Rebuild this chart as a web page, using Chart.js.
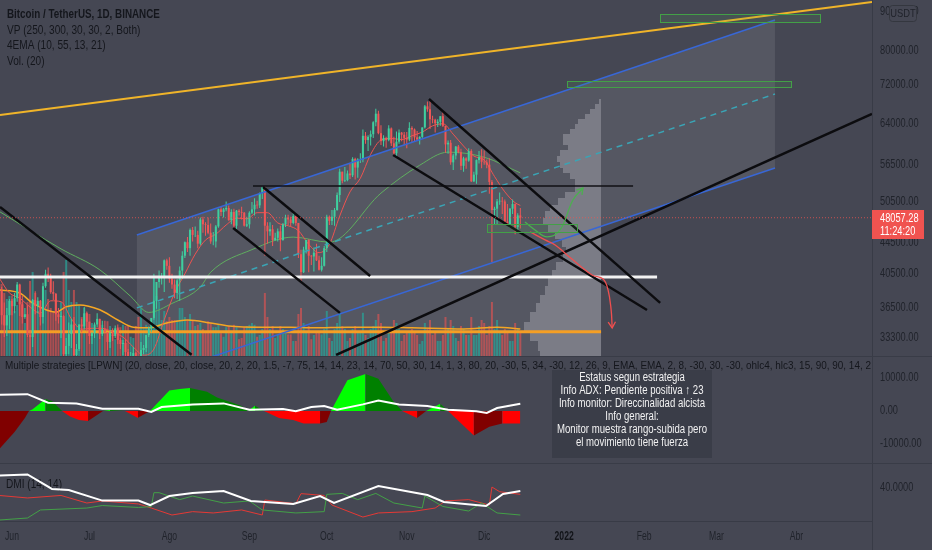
<!DOCTYPE html>
<html lang="es">
<head>
<meta charset="utf-8">
<title>Bitcoin / TetherUS, 1D, BINANCE</title>
<script src="https://cdn.jsdelivr.net/npm/chart.js@4.4.1/dist/chart.umd.min.js"></script>
<style>
  html, body { margin: 0; padding: 0; background: #393c47; }
  #wrap { position: relative; width: 932px; height: 550px; overflow: hidden; }
  #wrap canvas { position: absolute; left: 0; background: #454753; }
</style>
</head>
<body>
<div id="wrap">
  <canvas id="price" width="932" height="356" style="top:0"></canvas>
  <canvas id="osc" width="932" height="106" style="top:357px"></canvas>
  <canvas id="dmi" width="932" height="86" style="top:464px"></canvas>
</div>
<script>
// day 0 = 1 Jun 2021, first candle is 27 May 2021
const firstDay = -5

// daily candles, thousands of USDT
const opens = [
  39.3, 38.5, 35.7, 34.6, 35.7,
  37.3, 36.7, 37.6, 39.2, 36.9, 35.5, 35.8, 33.6, 33.4, 37.4, 36.7, 37.3, 35.5, 39.0, 40.5, 40.2, 38.3, 38.1, 35.8, 35.5, 35.6, 31.7, 32.5, 33.7, 34.7, 31.6, 32.2, 34.7, 34.5, 35.9,
  35.0, 33.5, 33.8, 34.7, 35.3, 33.7, 34.2, 33.9, 32.9, 33.8, 33.5, 34.3, 33.1, 32.7, 32.8, 31.9, 31.4, 31.5, 31.8, 30.8, 29.8, 32.1, 32.3, 33.6, 34.3, 35.4, 37.3, 39.5, 40.0, 40.0, 42.2,
  41.5, 39.9, 39.2, 38.2, 39.7, 40.9, 42.8, 44.6, 43.8, 46.3, 45.6, 45.6, 44.4, 47.8, 47.1, 47.0, 45.9, 44.7, 44.7, 46.8, 49.3, 48.9, 49.3, 49.5, 47.7, 48.9, 46.9, 49.1, 48.9, 48.8, 46.9,
  47.1, 48.8, 49.3, 50.0, 49.9, 51.8, 52.7, 46.9, 46.1, 46.4, 44.9, 45.2, 46.1, 44.9, 47.1, 48.1, 47.8, 47.3, 48.3, 47.3, 43.0, 40.7, 43.6, 44.9, 42.8, 42.7, 43.2, 42.2, 41.0, 41.5,
  43.8, 48.2, 47.6, 48.2, 49.2, 51.5, 55.3, 53.8, 53.9, 55.0, 54.7, 57.5, 56.0, 57.4, 57.4, 61.7, 60.9, 61.5, 62.0, 64.3, 66.0, 62.2, 60.7, 61.3, 60.9, 63.1, 60.3, 58.5, 60.6, 62.3, 61.9,
  61.3, 61.0, 63.2, 62.9, 61.4, 61.0, 61.5, 63.3, 67.5, 66.9, 64.9, 64.8, 64.1, 64.4, 65.5, 63.6, 60.1, 60.4, 56.9, 58.1, 59.7, 58.7, 56.3, 57.6, 57.2, 58.9, 53.7, 54.8, 57.3, 57.8,
  57.0, 56.9, 56.5, 53.6, 49.2, 49.4, 50.5, 50.6, 50.5, 47.5, 47.1, 49.4, 50.1, 46.7, 48.4
]
const highs = [
  40.4, 38.9, 37.1, 36.5, 37.5,
  37.9, 38.2, 39.5, 39.3, 37.9, 36.5, 36.8, 34.1, 37.5, 38.4, 37.7, 37.4, 39.4, 41.0, 41.3, 40.5, 39.6, 38.2, 36.5, 36.1, 35.7, 33.3, 34.9, 35.3, 35.5, 32.7, 34.7, 35.3, 36.6, 36.1,
  35.0, 33.9, 34.9, 35.9, 35.3, 35.1, 35.1, 33.9, 34.1, 34.3, 34.6, 34.7, 33.3, 33.1, 33.2, 32.2, 31.9, 32.4, 31.9, 31.0, 32.9, 32.6, 33.6, 34.5, 35.4, 40.5, 39.5, 40.9, 40.6, 42.3, 42.4,
  42.6, 40.5, 39.8, 39.9, 41.4, 43.4, 44.7, 45.3, 46.5, 46.7, 46.8, 46.2, 48.1, 48.2, 47.4, 48.1, 47.2, 46.0, 47.0, 49.4, 49.8, 49.5, 50.5, 49.9, 49.3, 49.4, 49.2, 49.3, 49.7, 48.9, 48.2,
  49.0, 50.4, 51.0, 50.6, 51.9, 52.8, 52.9, 47.4, 47.4, 47.0, 45.9, 46.5, 46.9, 47.3, 48.5, 48.5, 48.2, 48.8, 48.4, 47.3, 43.6, 44.0, 44.9, 45.0, 42.9, 43.9, 44.4, 42.8, 42.6, 44.1,
  48.5, 48.4, 49.2, 49.5, 51.9, 55.8, 55.3, 56.1, 55.5, 56.6, 57.8, 57.7, 57.6, 58.5, 62.9, 62.4, 61.8, 62.7, 64.5, 67.0, 66.6, 63.7, 61.8, 61.5, 63.7, 63.3, 61.5, 62.5, 62.9, 62.4, 62.4,
  62.4, 64.3, 63.5, 63.1, 62.6, 61.6, 63.3, 67.8, 68.5, 69.0, 65.6, 65.0, 64.9, 65.5, 66.4, 63.6, 60.8, 60.9, 58.4, 59.8, 60.0, 59.3, 57.9, 57.8, 59.4, 59.2, 55.3, 57.4, 58.9, 59.2,
  59.0, 57.4, 57.6, 53.9, 49.7, 50.9, 51.9, 51.2, 50.8, 50.1, 49.5, 50.8, 50.2, 48.7, 49.5
]
const lows = [
  37.2, 34.7, 33.4, 33.5, 34.2,
  35.7, 35.9, 37.2, 35.6, 34.8, 35.3, 33.4, 31.0, 32.4, 35.8, 35.9, 34.6, 34.8, 38.8, 39.5, 38.1, 37.4, 35.1, 34.8, 33.3, 31.3, 28.8, 31.7, 32.3, 31.3, 30.2, 32.0, 33.9, 34.2, 34.0,
  32.7, 32.7, 33.3, 34.4, 33.2, 33.5, 33.8, 32.1, 32.3, 33.0, 33.3, 32.7, 32.2, 31.6, 31.1, 31.0, 31.2, 31.1, 30.5, 29.3, 29.5, 31.7, 31.9, 33.4, 33.9, 35.2, 36.4, 38.8, 39.2, 38.3, 41.0,
  39.4, 38.7, 37.6, 37.5, 37.3, 39.9, 42.5, 43.3, 42.8, 44.7, 45.3, 43.8, 44.2, 45.9, 45.5, 45.7, 44.4, 44.2, 43.9, 46.6, 48.3, 48.1, 49.0, 47.6, 47.1, 46.3, 46.4, 48.4, 47.8, 46.8, 46.7,
  46.5, 48.6, 48.4, 49.4, 49.5, 50.9, 42.8, 44.4, 45.5, 44.1, 44.8, 44.7, 43.4, 44.8, 46.7, 47.0, 46.8, 47.1, 46.9, 42.5, 39.6, 40.6, 43.1, 40.7, 41.6, 40.8, 42.1, 40.9, 40.8, 41.4,
  43.3, 47.0, 47.0, 46.9, 49.1, 50.4, 53.4, 53.6, 53.7, 54.1, 54.4, 54.0, 54.3, 56.8, 56.9, 60.2, 58.9, 59.9, 61.3, 63.5, 62.0, 60.0, 59.7, 59.5, 60.7, 59.8, 58.0, 57.8, 60.2, 60.7, 60.0,
  59.4, 60.7, 60.4, 60.7, 60.8, 60.1, 61.3, 63.1, 66.4, 63.0, 64.1, 62.3, 63.4, 63.6, 63.4, 58.6, 58.4, 56.5, 55.6, 57.4, 58.5, 55.6, 55.3, 55.8, 57.0, 53.6, 53.6, 53.3, 56.7, 55.9,
  56.5, 55.9, 51.7, 42.0, 47.1, 47.1, 50.0, 48.6, 47.3, 46.9, 46.6, 48.6, 45.7, 46.3, 46.5
]
const closes = [
  38.5, 35.7, 34.6, 35.7, 37.3,
  36.7, 37.6, 39.2, 36.9, 35.5, 35.8, 33.6, 33.4, 37.4, 36.7, 37.3, 35.5, 39.0, 40.5, 40.2, 38.3, 38.1, 35.8, 35.5, 35.6, 31.7, 32.5, 33.7, 34.7, 31.6, 32.2, 34.7, 34.5, 35.9, 35.0,
  33.5, 33.8, 34.7, 35.3, 33.7, 34.2, 33.9, 32.9, 33.8, 33.5, 34.3, 33.1, 32.7, 32.8, 31.9, 31.4, 31.5, 31.8, 30.8, 29.8, 32.1, 32.3, 33.6, 34.3, 35.4, 37.3, 39.5, 40.0, 40.0, 42.2, 41.5,
  39.9, 39.2, 38.2, 39.7, 40.9, 42.8, 44.6, 43.8, 46.3, 45.6, 45.6, 44.4, 47.8, 47.1, 47.0, 45.9, 44.7, 44.7, 46.8, 49.3, 48.9, 49.3, 49.5, 47.7, 48.9, 46.9, 49.1, 48.9, 48.8, 46.9, 47.1,
  48.8, 49.3, 50.0, 49.9, 51.8, 52.7, 46.9, 46.1, 46.4, 44.9, 45.2, 46.1, 44.9, 47.1, 48.1, 47.8, 47.3, 48.3, 47.3, 43.0, 40.7, 43.6, 44.9, 42.8, 42.7, 43.2, 42.2, 41.0, 41.5, 43.8,
  48.2, 47.6, 48.2, 49.2, 51.5, 55.3, 53.8, 53.9, 55.0, 54.7, 57.5, 56.0, 57.4, 57.4, 61.7, 60.9, 61.5, 62.0, 64.3, 66.0, 62.2, 60.7, 61.3, 60.9, 63.1, 60.3, 58.5, 60.6, 62.3, 61.9, 61.3,
  61.0, 63.2, 62.9, 61.4, 61.0, 61.5, 63.3, 67.5, 66.9, 64.9, 64.8, 64.1, 64.4, 65.5, 63.6, 60.1, 60.4, 56.9, 58.1, 59.7, 58.7, 56.3, 57.6, 57.2, 58.9, 53.7, 54.8, 57.3, 57.8, 57.0,
  56.9, 56.5, 53.6, 49.2, 49.4, 50.5, 50.6, 50.5, 47.5, 47.1, 49.4, 50.1, 46.7, 48.4, 48.05728
]
// daily volume, thousands of BTC
const volumes = [
  110, 120, 105, 95, 100,
  95, 75, 85, 110, 90, 55, 90, 125, 140, 105, 75, 70, 85, 110, 95, 80, 75, 95, 75, 90, 140, 160, 110, 90, 110, 90, 85, 65, 80, 72,
  70, 55, 40, 42, 52, 52, 45, 58, 50, 35, 28, 48, 48, 52, 50, 50, 32, 30, 50, 65, 80, 48, 52, 42, 45, 130, 100, 90, 60, 75, 58,
  65, 60, 60, 60, 80, 80, 65, 60, 70, 60, 50, 52, 55, 45, 42, 58, 55, 48, 48, 52, 38, 32, 48, 50, 42, 52, 48, 28, 30, 48, 50,
  52, 55, 52, 32, 35, 45, 105, 65, 45, 50, 30, 35, 50, 45, 38, 36, 36, 25, 25, 70, 80, 55, 42, 50, 28, 35, 40, 40, 36, 45,
  75, 30, 25, 45, 55, 72, 50, 45, 25, 30, 45, 50, 40, 40, 72, 35, 30, 45, 50, 60, 70, 55, 25, 30, 40, 45, 60, 55, 45, 25, 35,
  40, 40, 45, 40, 35, 20, 25, 55, 45, 60, 35, 40, 25, 25, 35, 65, 45, 60, 50, 30, 25, 50, 45, 35, 35, 65, 35, 35, 50, 60,
  55, 35, 50, 90, 45, 60, 40, 35, 45, 40, 25, 25, 55, 45, 40
]

// indicator readings (thousands of USDT / BTC)
const emaFastDays = [-5, -1, 3, 7, 11, 15, 19, 23, 27, 31, 35, 39, 43, 47, 51, 55, 59, 63, 67, 71, 75, 79, 83, 87, 91, 95, 99, 103, 107, 111, 115, 119, 123, 127, 131, 135, 139, 143, 147, 151, 155, 159, 163, 167, 171, 175, 179, 183, 187, 191, 195, 197]
const emaFast = [40.0, 38.2, 37.6, 36.6, 35.9, 37.3, 37.2, 35.3, 34.2, 34.3, 34.3, 33.9, 33.4, 32.4, 31.6, 32.2, 35.2, 38.2, 40.5, 43.0, 44.9, 45.7, 47.0, 48.0, 47.9, 48.8, 48.8, 47.3, 46.9, 46.2, 44.3, 43.2, 44.3, 48.3, 52.0, 54.2, 58.3, 60.9, 61.2, 61.0, 61.7, 62.4, 63.6, 64.0, 62.0, 59.8, 58.0, 57.3, 54.5, 52.0, 50.3, 49.9]
const emaSlowDays = [-5, 19, 34, 46, 53, 62, 73, 77, 93, 109, 123, 143, 158, 169, 183, 197]
const emaSlow = [49.0, 43.7, 41.0, 37.8, 36.0, 37.0, 38.9, 40.7, 43.6, 45.3, 44.6, 51.8, 56.4, 58.7, 57.8, 55.1]
const volMaDays = [-5, 3, 8, 17, 21, 26, 34, 41, 47, 53, 60, 68, 77, 84, 97, 108, 117, 130, 143, 155, 175, 188, 197]
const volMa = [110, 105, 88, 73, 82, 85, 77, 60, 48, 47, 55, 60, 55, 50, 48, 48, 47, 48, 48, 47, 45, 48, 45]

// volume profile rows (lower edge of each 1000 USDT row) and relative volume
const vpRowPrices = [31000, 32000, 33000, 34000, 35000, 36000, 37000, 38000, 39000, 40000, 41000, 42000, 43000, 44000, 45000, 46000, 47000, 48000, 49000, 50000, 51000, 52000, 53000, 54000, 55000, 56000, 57000, 58000, 59000, 60000, 61000, 62000, 63000, 64000, 65000, 66000, 67000, 68000]
const vpRowVolumes = [61, 63, 71, 77, 71, 65, 61, 56, 53, 49, 45, 38, 35, 39, 46, 53, 58, 56, 51, 43, 36, 26, 26, 31, 38, 41, 44, 41, 33, 38, 38, 31, 26, 23, 16, 11, 6, 2]
const pocPrice = 33950

// drawings (day, USDT)
const channelDays = [48.4, 295.7]
const channelTop = [45590, 87830]
const channelMid = [36500, 70090]
const channelBottom = [29120, 55930]
const rangeEndDay = 228.3
const resistanceDays = [-4.65, 333.3]
const resistancePrices = [65740, 92790]
const trendStartDays = [-4.65, 85.7, 97.3, 147.7, 161.6, 125.6]
const trendStartPrices = [49660, 46580, 52780, 58180, 69020, 31620]
const trendEndDays = [69.6, 127.1, 138.8, 246.1, 251.2, 333.3]
const trendEndPrices = [31630, 35950, 40240, 36270, 37060, 65940]
const levelStartDays = [93.4, -4.65]
const levelEndDays = [240.7, 250.0]
const levelPrices = [52940, 40110]
const boxStartDays = [251.2, 215.1, 184.1]
const boxEndDays = [313.2, 301.9, 219.0]
const boxTopPrices = [89450, 72930, 47150]
const boxBottomPrices = [87300, 71600, 46010]
const bearPathDays = [200.8, 206.6, 210.5, 215.1, 220.2, 224.8, 229.1, 231.0, 232.2, 232.6]
const bearPathPrices = [46020, 44910, 44230, 42900, 41480, 40360, 39870, 38560, 36280, 34340]
const bullPathDays = [198.8, 202.7, 207.4, 212.4, 217.4, 221.3]
const bullPathPrices = [47440, 46300, 45320, 46300, 50730, 52620]
const lastPrice = 48057.28
const countdown = "11:24:20"

// oscillator pane
const oscHistDays = [-5, 1, 5, 6.6, 8, 13, 15.5, 19.4, 22.5, 26, 29.5, 35.3, 38, 43.8, 48.8, 53.5, 61, 65, 69, 75.6, 79.5, 88.8, 91.5, 94.2, 97.7, 103.5, 109, 113, 119.4, 122, 123.6, 130, 137, 142, 147.7, 151.2, 157, 160.5, 166, 169, 179, 185, 190, 197]
const oscHist = [-11600, -6400, -2100, 0, 500, 3600, 3000, 0, -1700, -2700, -3000, 0, 300, 0, -2100, 0, 6200, 6700, 7000, 5800, 4100, 1600, 0, 1600, 0, -2100, -2700, -3800, -3800, -3300, 0, 9300, 11200, 9800, 3000, 0, -2100, 0, 2200, 0, -7400, -4800, -3800, -3800]
const oscLineDays = [-5, 6, 14, 25, 35, 49, 54, 58, 70, 82, 92, 105, 110, 116, 121, 126, 136, 142, 150, 161, 169, 180, 184, 188, 197]
const oscLine = [4900, 5100, 2500, 2300, 700, 700, -300, 1200, 2000, 2300, 400, 600, -100, 1200, 1500, 400, 2000, 3200, 2000, 1500, 400, -100, -600, 900, 2200]
const statusLines = [
  "Estatus segun estrategia",
  "Info ADX: Pendiente positiva ↑ 23",
  "Info monitor: Direccinalidad alcista",
  "Info general:",
  "Monitor muestra rango-subida pero",
  "el movimiento tiene fuerza"
]

// DMI pane
const adxDays = [-5, 6, 15.5, 22, 35, 49, 53.5, 61, 70, 82, 92.6, 109, 119.4, 124.8, 142, 161, 167.4, 183.7, 190.3, 197]
const adx = [50.4, 51.3, 39.2, 38.3, 29.5, 29.5, 25.8, 33.3, 35.8, 37.5, 29.2, 26.7, 33.3, 27.5, 41.7, 34.2, 28.3, 25.0, 35.0, 37.5]
const diPlusDays = [-5, 6, 11, 29, 35, 49, 54, 55, 57, 65, 70, 82, 92, 97, 110, 121, 122, 128, 134, 141, 148, 159, 160, 167, 177, 182, 188, 197]
const diPlus = [13.3, 15.0, 21.7, 23.3, 25.4, 23.8, 24.5, 36.1, 36.1, 30.3, 33.3, 27.5, 29.2, 21.7, 19.2, 20.3, 34.7, 35.5, 30.3, 35.5, 27.5, 23.3, 33.3, 24.6, 20.8, 27.5, 19.2, 17.5]
const diMinusDays = [-5, 6, 19, 29, 35, 49, 54, 62, 70, 78, 89, 97, 98, 110, 112, 121, 124, 136, 142, 155, 164, 168, 177, 185, 186, 189, 197]
const diMinus = [33.8, 31.7, 33.8, 27.5, 29.2, 26.7, 23.3, 17.5, 20.3, 19.2, 21.7, 17.5, 30.0, 26.9, 35.3, 33.8, 25.8, 15.8, 19.2, 20.3, 23.3, 29.2, 30.3, 25.8, 40.8, 36.9, 34.7]

// axes
const monthDays = [0, 30, 61, 92, 122, 153, 183, 214, 245, 273, 304]
const monthLabels = ["Jun", "Jul", "Ago", "Sep", "Oct", "Nov", "Dic", "2022", "Feb", "Mar", "Abr"]
const priceTicks = [90000, 80000, 72000, 64000, 56500, 50500, 44500, 40500, 36500, 33300]
const oscTicks = [10000, 0, -10000]
const dmiTicks = [40]

const viewStart = -4.65
const viewEnd = 333.3
const priceMin = 31520
const priceMax = 93360
const volMax = 593
const oscMin = -15760
const oscMax = 16360
const dmiMin = 12.5
const dmiMax = 60

const FONT = "'Liberation Sans', Arial, sans-serif"
const TEXT = "#14161c"
const TICK = "#20232b"
const SEP = "#383b46"
const AXIS_W = 60
const UP = "#3fcf9f"
const DOWN = "#f05656"

Chart.defaults.font.family = FONT
Chart.defaults.animation = false

const K = 1000
const candleDays = closes.map((_, i) => firstDay + i)
const toPoints = (days, values, scale = 1) => days.map((d, i) => ({ x: d, y: values[i] * scale }))
const seg = (d0, v0, d1, v1) => [{ x: d0, y: v0 }, { x: d1, y: v1 }]
const line = (data, color, width, order, extra = {}) => ({
  type: "line", data, borderColor: color, borderWidth: width, pointRadius: 0,
  fill: false, tension: 0, order, ...extra
})

// the screenshot uses a condensed face: squeeze the text horizontally
const narrowText = (ctx, text, x, y, factor = 0.84) => {
  const w = ctx.measureText(text).width
  ctx.fillText(text, x, y, w * factor)
}

const noPadding = (s) => {
  s.paddingTop = 0
  s.paddingBottom = 0
  s.paddingLeft = 0
  s.paddingRight = 0
}

const xScale = (show) => ({
  type: "linear", min: viewStart, max: viewEnd, offset: false, bounds: "data",
  display: show, position: "bottom",
  grid: { display: false, drawTicks: false },
  border: { display: show, color: SEP },
  ticks: { display: false },
  afterFit: (s) => {
    noPadding(s)
    if (show) s.height = 29
  },
  afterBuildTicks: (s) => { s.ticks = monthDays.map((d) => ({ value: d })) }
})

const yScale = (min, max, ticks, type = "linear") => ({
  type, min, max, bounds: "data", position: "right",
  grid: { display: false, drawTicks: false }, border: { display: false },
  ticks: { display: false },
  afterFit: (s) => {
    noPadding(s)
    s.width = AXIS_W
  },
  afterBuildTicks: (s) => { s.ticks = ticks.map((v) => ({ value: v })) }
})

const baseOptions = (scales) => ({
  responsive: false, animation: false, events: [],
  layout: { padding: 0 },
  plugins: { legend: { display: false }, tooltip: { enabled: false } },
  scales
})

const drawAxis = (chart, digits) => {
  const { ctx, chartArea, scales: { y } } = chart
  ctx.save()
  ctx.fillStyle = SEP
  ctx.fillRect(chartArea.right, 0, 1, chart.height)
  ctx.font = `12px ${FONT}`
  ctx.fillStyle = TICK
  ctx.textBaseline = "middle"
  ctx.textAlign = "left"
  y.ticks.forEach((t) => narrowText(ctx, t.value.toFixed(digits), chartArea.right + 8, y.getPixelForValue(t.value), 0.77))
  ctx.restore()
}

const drawArrowHead = (ctx, from, to, color) => {
  const ang = Math.atan2(to.y - from.y, to.x - from.x)
  const len = 7
  ctx.strokeStyle = color
  ctx.lineWidth = 1.3
  ctx.beginPath()
  ctx.moveTo(to.x - len * Math.cos(ang - 0.55), to.y - len * Math.sin(ang - 0.55))
  ctx.lineTo(to.x, to.y)
  ctx.lineTo(to.x - len * Math.cos(ang + 0.55), to.y - len * Math.sin(ang + 0.55))
  ctx.stroke()
}

const priceDrawings = {
  id: "priceDrawings",
  beforeDatasetsDraw(chart) {
    const { ctx, chartArea: area, scales: { x, y } } = chart
    ctx.save()
    ctx.beginPath()
    ctx.rect(area.left, area.top, area.width, area.height)
    ctx.clip()

    // parallel channel + profile range background
    const x0 = x.getPixelForValue(channelDays[0])
    const x1 = x.getPixelForValue(channelDays[1])
    const xr = x.getPixelForValue(rangeEndDay)
    const top0 = y.getPixelForValue(channelTop[0])
    const top1 = y.getPixelForValue(channelTop[1])
    const bot0 = y.getPixelForValue(channelBottom[0])
    const bot1 = y.getPixelForValue(channelBottom[1])
    const botR = bot0 + (bot1 - bot0) * (xr - x0) / (x1 - x0)
    ctx.fillStyle = "rgba(255, 255, 255, 0.085)"
    ctx.beginPath()
    ctx.moveTo(x0, top0)
    ctx.lineTo(x1, top1)
    ctx.lineTo(x1, bot1)
    ctx.lineTo(xr, botR)
    ctx.lineTo(xr, area.bottom)
    ctx.lineTo(x0, area.bottom)
    ctx.closePath()
    ctx.fill()

    // volume profile
    const maxVol = Math.max(...vpRowVolumes)
    const rowStep = vpRowPrices[1] - vpRowPrices[0]
    ctx.fillStyle = "rgba(222, 224, 230, 0.28)"
    vpRowPrices.forEach((p, i) => {
      const left = Math.round(x.getPixelForValue(rangeEndDay - (vpRowVolumes[i] / maxVol) * 29.8))
      const yTop = Math.round(y.getPixelForValue(p + rowStep))
      const yBot = Math.round(y.getPixelForValue(p))
      ctx.fillRect(left, yTop, Math.round(xr) - left, yBot - yTop)
    })
    ctx.restore()
  },
  afterDatasetsDraw(chart) {
    const { ctx, chartArea: area, scales: { x, y } } = chart
    ctx.save()
    ctx.beginPath()
    ctx.rect(area.left, area.top, area.width, area.height)
    ctx.clip()

    boxStartDays.forEach((d, i) => {
      const l = Math.round(x.getPixelForValue(d))
      const r = Math.round(x.getPixelForValue(boxEndDays[i]))
      const t = Math.round(y.getPixelForValue(boxTopPrices[i]))
      const b = Math.round(y.getPixelForValue(boxBottomPrices[i]))
      ctx.fillStyle = "rgba(76, 175, 80, 0.12)"
      ctx.fillRect(l, t, r - l, b - t)
      ctx.strokeStyle = "#43a047"
      ctx.lineWidth = 1
      ctx.strokeRect(l + 0.5, t + 0.5, r - l, b - t)
    })

    const pt = (d, p) => ({ x: x.getPixelForValue(d), y: y.getPixelForValue(p) })
    const nb = bearPathDays.length
    drawArrowHead(ctx, pt(bearPathDays[nb - 2], bearPathPrices[nb - 2]), pt(bearPathDays[nb - 1], bearPathPrices[nb - 1]), "#ef4f4f")
    const ng = bullPathDays.length
    drawArrowHead(ctx, pt(bullPathDays[ng - 2], bullPathPrices[ng - 2]), pt(bullPathDays[ng - 1], bullPathPrices[ng - 1]), "#4caf50")
    ctx.restore()
  },
  afterDraw(chart) {
    const { ctx, chartArea: area, scales: { y } } = chart
    drawAxis(chart, 2)
    ctx.save()

    // last price tag
    const py = y.getPixelForValue(lastPrice)
    ctx.fillStyle = "#f05350"
    ctx.fillRect(area.right, Math.round(py) - 8, 52, 29)
    ctx.fillStyle = "#ffffff"
    ctx.font = `12px ${FONT}`
    ctx.textBaseline = "middle"
    ctx.textAlign = "left"
    narrowText(ctx, lastPrice.toFixed(2), area.right + 8, py + 1, 0.77)
    narrowText(ctx, countdown, area.right + 8, py + 14, 0.77)

    // currency badge
    ctx.fillStyle = "#454753"
    ctx.strokeStyle = "#34373f"
    ctx.lineWidth = 1
    ctx.beginPath()
    ctx.roundRect(889.5, 5.5, 27, 16, 3)
    ctx.fill()
    ctx.stroke()
    ctx.fillStyle = TICK
    ctx.textAlign = "center"
    ctx.font = `11px ${FONT}`
    narrowText(ctx, "USDT", 903, 14, 0.85)

    // legend
    ctx.textAlign = "left"
    ctx.fillStyle = TEXT
    ctx.font = `bold 12px ${FONT}`
    narrowText(ctx, "Bitcoin / TetherUS, 1D, BINANCE", 7, 15, 0.82)
    ctx.font = `12px ${FONT}`
    narrowText(ctx, "VP (250, 300, 30, 30, 2, Both)", 7, 31, 0.84)
    narrowText(ctx, "4EMA (10, 55, 13, 21)", 7, 46, 0.84)
    narrowText(ctx, "Vol. (20)", 7, 62, 0.84)
    ctx.restore()
  }
}

const candleColors = closes.map((c, i) => (c >= opens[i] ? UP : DOWN))
const volumeColors = closes.map((c, i) => (c >= opens[i] ? "rgba(38, 166, 154, 0.7)" : "rgba(239, 83, 80, 0.6)"))

const trendLines = trendStartDays.map((d, i) =>
  line(seg(d, trendStartPrices[i], trendEndDays[i], trendEndPrices[i]), "#0c0c0f", 2.5, 3))

new Chart(document.getElementById("price"), {
  type: "bar",
  data: {
    datasets: [
      line(toPoints(bullPathDays, bullPathPrices), "#4caf50", 1.3, 1, { tension: 0.4 }),
      line(toPoints(bearPathDays, bearPathPrices), "#ef4f4f", 1.3, 1, { tension: 0.4 }),
      line(seg(viewStart, lastPrice, viewEnd, lastPrice), "rgba(240, 83, 80, 0.75)", 1, 2, { borderDash: [1, 2] }),
      ...trendLines,
      line(seg(levelStartDays[0], levelPrices[0], levelEndDays[0], levelPrices[0]), "#101114", 1.5, 3),
      line(seg(levelStartDays[1], levelPrices[1], levelEndDays[1], levelPrices[1]), "#f2f2f2", 3, 3),
      line(seg(resistanceDays[0], resistancePrices[0], resistanceDays[1], resistancePrices[1]), "#f0b429", 2, 3),
      line(seg(channelDays[0], channelTop[0], channelDays[1], channelTop[1]), "#3867d6", 1.5, 4),
      line(seg(channelDays[0], channelBottom[0], channelDays[1], channelBottom[1]), "#3867d6", 1.5, 4),
      line(seg(channelDays[0], channelMid[0], channelDays[1], channelMid[1]), "#3aa4b5", 1.5, 4, { borderDash: [6, 5] }),
      {
        type: "bar", data: candleDays.map((d, i) => ({ x: d, y: [opens[i] * K, closes[i] * K] })),
        backgroundColor: candleColors, barThickness: 2, grouped: false, inflateAmount: 0, borderWidth: 0, order: 8
      },
      {
        type: "bar", data: candleDays.map((d, i) => ({ x: d, y: [lows[i] * K, highs[i] * K] })),
        backgroundColor: candleColors, barThickness: 1, grouped: false, inflateAmount: 0, borderWidth: 0, order: 9
      },
      line(toPoints(emaFastDays, emaFast, K), "#ef5350", 1, 10, { cubicInterpolationMode: "monotone" }),
      line(toPoints(emaSlowDays, emaSlow, K), "#5fae5f", 1, 11, { cubicInterpolationMode: "monotone" }),
      line(toPoints(volMaDays, volMa), "#f5a623", 1.5, 12, { yAxisID: "yVol", cubicInterpolationMode: "monotone" }),
      line(seg(viewStart, pocPrice, rangeEndDay, pocPrice), "#f59f24", 3, 13),
      {
        type: "bar", yAxisID: "yVol", data: candleDays.map((d, i) => ({ x: d, y: volumes[i] })),
        backgroundColor: volumeColors, barThickness: 2, grouped: false, inflateAmount: 0, borderWidth: 0, order: 20
      }
    ]
  },
  options: baseOptions({
    x: xScale(false),
    y: yScale(priceMin, priceMax, priceTicks, "logarithmic"),
    yVol: { type: "linear", display: false, min: 0, max: volMax }
  }),
  plugins: [priceDrawings]
})

const oscDrawings = {
  id: "oscDrawings",
  afterDraw(chart) {
    const { ctx } = chart
    drawAxis(chart, 2)
    ctx.save()
    ctx.textBaseline = "middle"
    ctx.fillStyle = TEXT
    ctx.font = `11px ${FONT}`
    ctx.fillText("Multiple strategies [LPWN] (20, close, 20, close, 20, 2, 20, 1.5, -7, 75, 14, 14, 23, 14, 70, 50, 30, 14, 1, 3, 80, 20, -30, 5, 34, -30, 12, 26, 9, EMA, EMA, 2, 8, -30, 30, -30, ohlc4, hlc3, 15, 90, 90, 14, 2", 5, 9, 866)

    ctx.fillStyle = "rgba(50, 53, 63, 0.55)"
    ctx.fillRect(552, 13, 160, 88)
    ctx.fillStyle = "#f2f2f2"
    ctx.textAlign = "center"
    ctx.font = `12px ${FONT}`
    statusLines.forEach((t, i) => narrowText(ctx, t, 632, 21 + i * 13, 0.8))
    ctx.restore()
  }
}

const histColor = (c) => {
  const a = c.p0.parsed.y
  const b = c.p1.parsed.y
  if (a + b >= 0) return b >= a ? "#00ff00" : "#008000"
  return b <= a ? "#ff0000" : "#800000"
}

new Chart(document.getElementById("osc"), {
  type: "line",
  data: {
    datasets: [
      {
        data: toPoints(oscHistDays, oscHist), fill: "origin", borderWidth: 0, pointRadius: 0,
        backgroundColor: "#00ff00", segment: { backgroundColor: histColor }, order: 2
      },
      line(toPoints(oscLineDays, oscLine), "#ffffff", 2, 1)
    ]
  },
  options: baseOptions({ x: xScale(false), y: yScale(oscMin, oscMax, oscTicks) }),
  plugins: [oscDrawings]
})

const dmiDrawings = {
  id: "dmiDrawings",
  beforeDatasetsDraw(chart) {
    const { ctx } = chart
    ctx.save()
    ctx.textBaseline = "middle"
    ctx.fillStyle = TEXT
    ctx.font = `12px ${FONT}`
    narrowText(ctx, "DMI (14, 14)", 6, 21, 0.84)
    ctx.restore()
  },
  afterDraw(chart) {
    const { ctx, chartArea, scales: { x } } = chart
    drawAxis(chart, 4)
    ctx.save()
    ctx.textBaseline = "middle"
    ctx.textAlign = "center"
    x.ticks.forEach((t, i) => {
      const bold = monthLabels[i] === "2022"
      ctx.font = `${bold ? "bold " : ""}12px ${FONT}`
      ctx.fillStyle = bold ? "#111318" : TICK
      narrowText(ctx, monthLabels[i], x.getPixelForValue(t.value), chartArea.bottom + 16, 0.72)
    })
    ctx.restore()
  }
}

new Chart(document.getElementById("dmi"), {
  type: "line",
  data: {
    datasets: [
      line(toPoints(adxDays, adx), "#ffffff", 2, 1),
      line(toPoints(diPlusDays, diPlus), "#43a047", 1, 2),
      line(toPoints(diMinusDays, diMinus), "#e53935", 1, 3)
    ]
  },
  options: baseOptions({ x: xScale(true), y: yScale(dmiMin, dmiMax, dmiTicks) }),
  plugins: [dmiDrawings]
})
</script>
</body>
</html>
